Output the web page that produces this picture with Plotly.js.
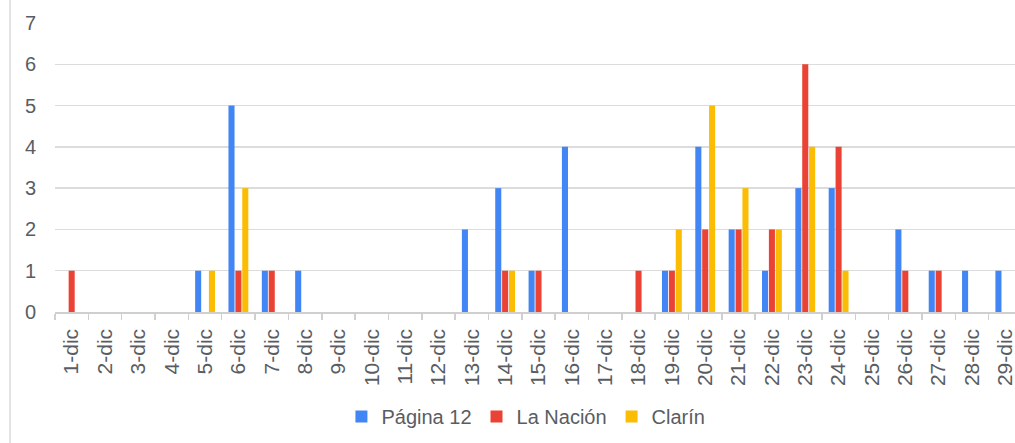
<!DOCTYPE html>
<html>
<head>
<meta charset="utf-8">
<script src="https://cdn.plot.ly/plotly-3.0.1.min.js"></script>
<style>
  html, body { margin: 0; padding: 0; background: #fff; overflow: hidden; width: 1015px; height: 443px; }
  #wrap { position: relative; width: 1015px; height: 443px; overflow: hidden; }
  #chart { position: absolute; left: 0; top: 0; width: 1023px; height: 443px; }
  #edge { position: absolute; left: 9px; top: 0; width: 2px; height: 443px; background: #e3e3e3; z-index: 5; }
</style>
</head>
<body>
<div id="wrap"><div id="chart"></div><div id="edge"></div></div>
<script>
const categories = ["1-dic","2-dic","3-dic","4-dic","5-dic","6-dic","7-dic","8-dic","9-dic","10-dic",
  "11-dic","12-dic","13-dic","14-dic","15-dic","16-dic","17-dic","18-dic","19-dic","20-dic",
  "21-dic","22-dic","23-dic","24-dic","25-dic","26-dic","27-dic","28-dic","29-dic"];
const pagina12 = [0,0,0,0,1,5,1,1,0,0, 0,0,2,3,1,4,0,0,1,4, 2,1,3,3,0,2,1,1,1];
const laNacion = [1,0,0,0,0,1,1,0,0,0, 0,0,0,1,1,0,0,1,1,2, 2,2,6,4,0,1,1,0,0];
const clarin   = [0,0,0,0,1,3,0,0,0,0, 0,0,0,1,0,0,0,0,2,5, 3,2,4,1,0,0,0,0,0];
const seriesNames = ["Página 12", "La Nación", "Clarín"];
const yTicks = [0,1,2,3,4,5,6,7];

const colors = ["#4285F4", "#EA4335", "#FBBC04"];
const textColor = "#595d63";
const font = "Liberation Sans, Arial, sans-serif";

const data = [pagina12, laNacion, clarin].map((vals, i) => ({
  type: "bar",
  name: seriesNames[i],
  x: categories,
  y: vals,
  marker: { color: colors[i], line: { width: 0 } },
  hoverinfo: "x+y+name"
}));

const layout = {
  width: 1023,
  height: 443,
  margin: { l: 55, r: 1, t: 23, b: 131, pad: 0 },
  paper_bgcolor: "#ffffff",
  plot_bgcolor: "#ffffff",
  font: { family: font, size: 20, color: textColor },
  barmode: "group",
  bargap: 0.38,
  bargroupgap: 0.12,
  showlegend: true,
  legend: {
    orientation: "h",
    x: 0.487, xanchor: "center",
    y: -0.362, yanchor: "middle",
    font: { family: font, size: 20, color: textColor },
    itemwidth: 30,
    traceorder: "normal"
  },
  xaxis: {
    type: "category",
    tickangle: -90,
    tickson: "boundaries",
    ticks: "outside",
    ticklen: 6,
    tickwidth: 1.5,
    tickcolor: "#d0d0d0",
    showline: true,
    linecolor: "#cfcfcf",
    linewidth: 1.5,
    showgrid: false,
    zeroline: false,
    tickfont: { family: font, size: 21, color: textColor },
    ticklabelstandoff: 7,
    fixedrange: true
  },
  yaxis: {
    range: [0, 7],
    tickvals: yTicks,
    ticktext: yTicks.map(String),
    showgrid: true,
    gridcolor: "#dcdcdc",
    gridwidth: 1.5,
    zeroline: false,
    showline: false,
    ticks: "",
    tickfont: { family: font, size: 20, color: textColor },
    ticklabelstandoff: 18,
    fixedrange: true
  }
};

Plotly.newPlot("chart", data, layout, { displayModeBar: false, staticPlot: true });
</script>
</body>
</html>
